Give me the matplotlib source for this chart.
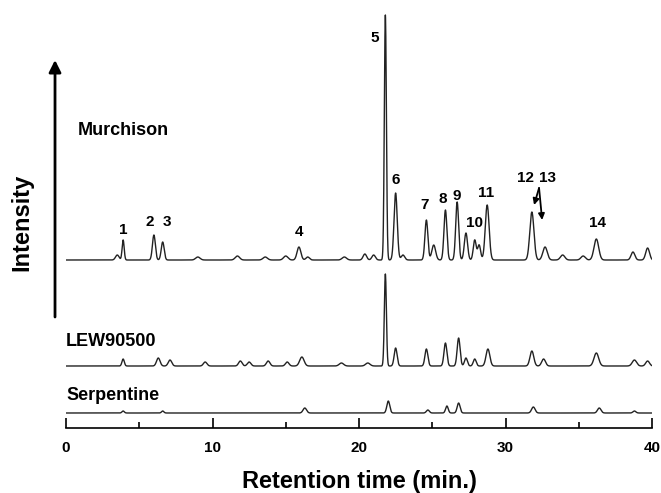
import numpy as np
import matplotlib.pyplot as plt

# peak tables (time in min, height in px-ish units)
murch_t = [3.5, 3.9, 6.0, 6.6, 9.0, 11.7, 13.6, 15.0, 15.9, 16.5, 19.0, 20.4, 21.0,
           21.8, 22.5, 23.0, 24.6, 25.1, 25.9, 26.7, 27.3, 27.9, 28.2, 28.75,
           31.8, 32.7, 33.9, 35.3, 36.2, 38.7, 39.7]
murch_h = [5, 20, 25, 18, 3, 4, 3, 4, 13, 3, 3, 6, 5,
           245, 67, 5, 40, 15, 50, 58, 27, 20, 15, 55,
           48, 13, 5, 4, 21, 8, 12]
murch_w = [0.12, 0.07, 0.1, 0.1, 0.15, 0.15, 0.15, 0.15, 0.13, 0.12, 0.15, 0.12, 0.12,
           0.07, 0.11, 0.12, 0.1, 0.13, 0.1, 0.1, 0.11, 0.1, 0.1, 0.13,
           0.14, 0.15, 0.15, 0.15, 0.16, 0.13, 0.13]

lew_t = [3.9, 6.3, 7.1, 9.5, 11.9, 12.5, 13.8, 15.1, 16.1, 18.8, 20.6,
         21.8, 22.5, 24.6, 25.9, 26.8, 27.3, 27.9, 28.8, 31.8, 32.6, 36.2, 38.8, 39.7]
lew_h = [7, 8, 6, 4, 5, 4, 5, 4, 9, 3, 3,
         92, 18, 17, 23, 28, 8, 7, 17, 15, 7, 13, 6, 5]
lew_w = [0.08, 0.12, 0.12, 0.12, 0.12, 0.12, 0.12, 0.12, 0.15, 0.15, 0.15,
         0.07, 0.1, 0.1, 0.1, 0.1, 0.1, 0.1, 0.13, 0.13, 0.13, 0.16, 0.15, 0.13]

serp_t = [3.9, 6.6, 16.3, 22.0, 24.7, 26.0, 26.8, 31.9, 36.4, 38.8]
serp_h = [2, 2, 5, 12, 3, 7, 10, 6, 5, 2]
serp_w = [0.08, 0.08, 0.12, 0.1, 0.1, 0.09, 0.1, 0.12, 0.12, 0.1]

names = ["Murchison", "LEW90500", "Serpentine"]
baselines = [168, 62, 15]

peak_labels = ["1", "2", "3", "4", "5", "6", "7", "8", "9", "10", "11", "12", "13", "14"]
label_x = [3.9, 5.7, 6.9, 15.9, 21.1, 22.5, 24.5, 25.7, 26.7, 27.85, 28.7, 31.35, 32.85, 36.3]
label_y = [198, 206, 206, 196, 390, 248, 223, 229, 232, 205, 235, 250, 250, 205]

xticks = [0, 10, 20, 30, 40]
minor_ticks = [5, 15, 25, 35]

t = np.linspace(0, 40, 4001)


def trace(times, heights, widths):
    y = np.zeros_like(t)
    for c, h, w in zip(times, heights, widths):
        y += h * np.exp(-0.5 * ((t - c) / w) ** 2)
    return y


W, H = 661, 493
fig = plt.figure(figsize=(W / 100, H / 100), dpi=100)
ax = fig.add_axes([66 / W, (H - 428) / H, (652 - 66) / W, 428 / H])
ax.set_xlim(0, 40)
ax.set_ylim(0, 428)

tables = [(murch_t, murch_h, murch_w), (lew_t, lew_h, lew_w), (serp_t, serp_h, serp_w)]
for (tt, hh, ww), base in zip(tables, baselines):
    ax.plot(t, base + trace(tt, hh, ww), color="#222222", lw=1.0)

bold = dict(family=["Liberation Sans", "DejaVu Sans"], fontweight="bold")
narrow = dict(family=["Liberation Sans Narrow", "Liberation Sans", "DejaVu Sans"],
              fontweight="bold")

ax.text(0.8, 298, names[0], fontsize=13, va="center", ha="left", **bold)
ax.text(0.0, 86, names[1], fontsize=13, va="center", ha="left", **bold)
ax.text(0.0, 33, names[2], fontsize=13, va="center", ha="left", **bold)

for s, x, y in zip(peak_labels, label_x, label_y):
    ax.text(x, y, s, fontsize=11, ha="center", va="center", **narrow)

# little arrows at 12 / 13
ax.annotate("", xy=(31.95, 223), xytext=(32.29, 240),
            arrowprops=dict(arrowstyle="-|>", color="black", lw=1.3, mutation_scale=9,
                            shrinkA=0, shrinkB=0))
ax.annotate("", xy=(32.5, 208), xytext=(32.29, 240),
            arrowprops=dict(arrowstyle="-|>", color="black", lw=1.3, mutation_scale=9,
                            shrinkA=0, shrinkB=0))

# intensity arrow
ax.annotate("", xy=(-0.75, 368), xytext=(-0.75, 111), xycoords="data",
            arrowprops=dict(arrowstyle="-|>", color="black", lw=2, mutation_scale=18,
                            shrinkA=0, shrinkB=0),
            annotation_clip=False)
ax.text(-3.0, 206, "Intensity", rotation=90, fontsize=17, ha="center", va="center",
        clip_on=False, **bold)

for side in ["left", "right", "top"]:
    ax.spines[side].set_visible(False)
ax.spines["bottom"].set_linewidth(1.2)
ax.set_yticks([])
ax.set_xticks(xticks)
ax.set_xticks(minor_ticks, minor=True)
ax.tick_params(axis="x", which="major", direction="in", length=7, width=1.2, pad=9)
ax.tick_params(axis="x", which="minor", direction="in", length=4, width=1.2)
for lab in ax.get_xticklabels():
    lab.set_family(["Liberation Sans Narrow", "Liberation Sans", "DejaVu Sans"])
    lab.set_fontweight("bold")
    lab.set_fontsize(11)

# axis title placed on its baseline
fig.text((66 + 652) / 2 / W, (H - 488) / H, "Retention time (min.)", fontsize=17,
         ha="center", va="baseline", **bold)

fig.savefig("out.png", dpi=100)
